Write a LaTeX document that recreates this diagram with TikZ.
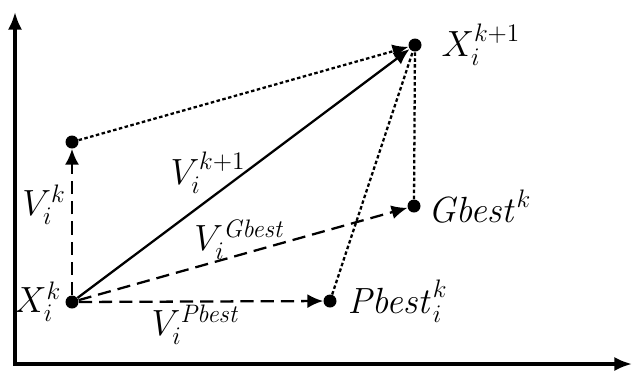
\documentclass[tikz,border=0pt]{standalone}
\usepackage{amsmath,amssymb}
\usepackage{tikz}
\usetikzlibrary{arrows.meta, positioning, calc}

\tikzset{
  dot/.style={circle, fill=black, inner sep=0pt, minimum size=0.26cm},
  longdash/.style={line width=1.3pt, dash pattern=on 7.5pt off 4pt, -{Latex[length=9pt,width=8pt]}},
  shortdot/.style={line width=1.3pt, dash pattern=on 2pt off 1.4pt},
  lbl/.style={font=\fontsize{20}{24}\selectfont, inner sep=1pt}
}

\begin{document}
\begin{tikzpicture}[x=0.02cm, y=-0.02cm]
  \useasboundingbox (0,0) rectangle (636,373);
  % axes
  \coordinate (o) at (15,364);
  \coordinate (ytop) at (15,12);
  \coordinate (xend) at (632,364);
  \draw[line width=1.8pt, -{Latex[length=10pt,width=8pt]}] ([yshift=-0.9pt]o) -- (ytop);
  \draw[line width=1.8pt, -{Latex[length=10pt,width=8pt]}] ([xshift=-0.9pt]o) -- (xend);
  % particle positions
  \node[dot] (xk) at (72,302) {};
  \node[dot] (vk) at (72,142) {};
  \node[dot] (xk1) at (415,45) {};
  \node[dot] (gb) at (414,206) {};
  \node[dot] (pb) at (330,301) {};
  % velocity components
  \draw[longdash] (xk) -- (vk);
  \draw[longdash] (xk) -- (gb);
  \draw[longdash] (xk) -- (pb);
  \draw[line width=1.3pt, -{Latex[length=9pt,width=8pt]}] (xk) -- (xk1);
  \draw[shortdot, -{Latex[length=9pt,width=8pt]}] (vk) -- (xk1);
  \draw[shortdot] (pb) -- (xk1);
  \draw[shortdot] (gb) -- (xk1);
  % labels
  \node[lbl, left=1pt of xk] (lxk) {$X_i^{k}$};
  \node[lbl, right=10pt of xk1] (lxk1) {$X_i^{k+1}$};
  \node[lbl, right=3pt of gb] (lgb) {$\mathit{Gbest}^{k}$};
  \node[lbl, right=5pt of pb] (lpb) {$\mathit{Pbest}_i^{k}$};
  \node[lbl] (lvk) at (44,205) {$V_i^{k}$};
  \node[lbl] (lvk1) at (208,173) {$V_i^{k+1}$};
  \node[lbl] (lvg) at (240,240) {$V_i^{\mathit{Gbest}}$};
  \node[lbl] (lvp) at (196,325) {$V_i^{\mathit{Pbest}}$};
\end{tikzpicture}
\end{document}
